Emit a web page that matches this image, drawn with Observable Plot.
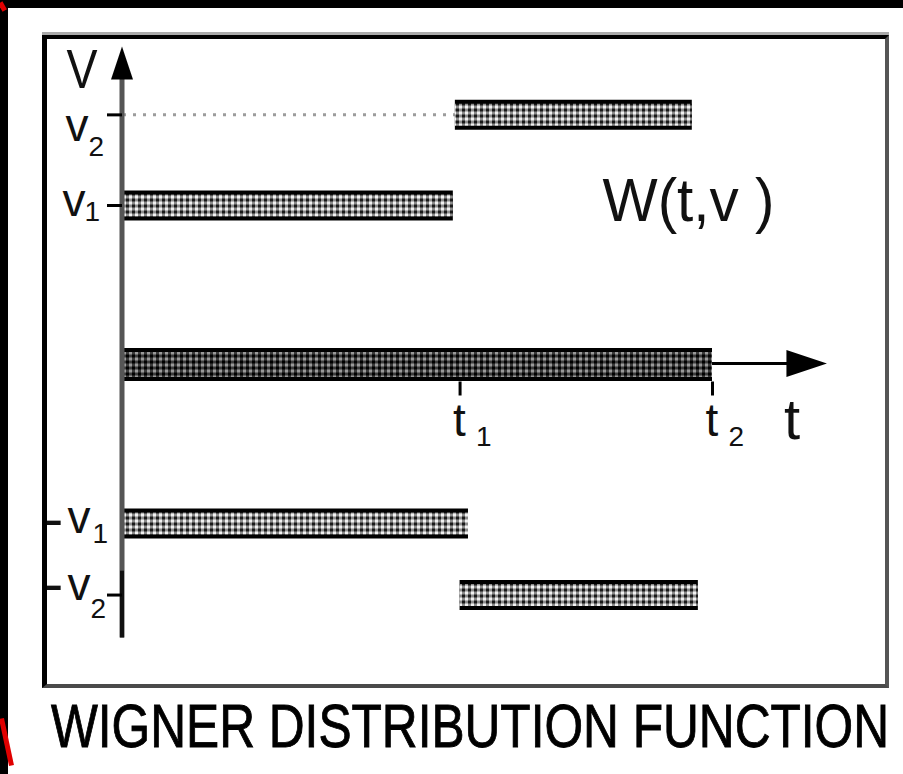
<!DOCTYPE html>
<html>
<head>
<meta charset="utf-8">
<script src="https://cdn.jsdelivr.net/npm/d3@7"></script>
<script src="https://cdn.jsdelivr.net/npm/@observablehq/plot@0.6"></script>
<style>
  html, body { margin: 0; padding: 0; background: #fff; }
  body { position: relative; width: 903px; height: 774px; overflow: hidden; font-family: "Liberation Sans", Arial, sans-serif; }
  #chart { position: absolute; left: 0; top: 0; }
  #box {
    position: absolute; left: 42px; top: 35px; width: 838px; height: 645px;
    border-style: solid; border-width: 4px 4px 4px 5px;
    border-color: #000 #555 #4a4a4a #000;
    box-shadow: 0 -3px 0 #aaa;
    pointer-events: none;
  }
  #title {
    position: absolute; left: 51px; top: 695px;
    font-size: 62px; line-height: 62px; white-space: nowrap;
    transform-origin: 0 0; color: #000;
    -webkit-text-stroke: 0.9px #000;
  }
  .edge { position: absolute; background: #000; }
  .red { position: absolute; background: #e00000; }
</style>
</head>
<body>
<div id="chart"></div>
<div id="box"></div>
<div id="title">WIGNER DISTRIBUTION FUNCTION</div>
<div class="edge" style="left:0;top:0;width:903px;height:8px"></div>
<div class="edge" style="left:0;top:0;width:8px;height:774px"></div>
<div class="red" style="left:0;top:2px;width:5px;height:9px;transform:rotate(-30deg)"></div>
<div class="red" style="left:3.5px;top:717.5px;width:5px;height:48px;transform:rotate(-12deg)"></div>
<script>
// Frequency bands of W(t, v): a tone at v1 that jumps to v2 at t1 and stops at t2,
// mirrored at negative frequencies, plus the cross term along v = 0.
const bandFreq  = [1.57, 1, 0, -1, -1.45];
const bandStart = [0.986, 0, 0, 0, 1.0];
const bandEnd   = [1.69, 0.98, 1.75, 1.025, 1.708];

// time marks t1, t2 on the time axis
const timeMarks = [1, 1.75];
const timeSubs  = ["1", "2"];

// frequency labels on the v axis
const freqLabelVal  = [1.57, 1, -1, -1.45];
const freqLabelSign = ["", "", "-", "-"];
const freqLabelSub  = ["2", "1", "1", "2"];
const tickedFreqs   = [1.57, 1, -1.45];

// axis extents
const axisTop = 2.0, axisBottom = -1.72, axisRight = 2.09;

const FONT = "Liberation Sans, Arial, sans-serif";

const bands = bandFreq.map((v, i) => ({v, t0: bandStart[i], t1: bandEnd[i]}));
const sideBands = bands.filter(d => d.v !== 0);
const baseBand = bands.filter(d => d.v === 0);

// filled arrowheads and short tick strokes as custom symbols
const arrowUp = {draw(ctx, size) { const r = Math.sqrt(size / Math.PI); ctx.moveTo(0, 0); ctx.lineTo(r, 3 * r); ctx.lineTo(-r, 3 * r); ctx.closePath(); }};
const arrowRight = {draw(ctx, size) { const r = Math.sqrt(size / Math.PI); ctx.moveTo(0, 0); ctx.lineTo(-3 * r, r); ctx.lineTo(-3 * r, -r); ctx.closePath(); }};
const tickLeft = {draw(ctx) { ctx.moveTo(-15, 0); ctx.lineTo(0, 0); }};
const tickDown = {draw(ctx) { ctx.moveTo(0, 17); ctx.lineTo(0, 31); }};

const txt = (data, opts) => Plot.text(data, {fontFamily: FONT, fill: "#111", lineAnchor: "bottom", textAnchor: "start", ...opts});

// lettering offsets for each frequency label (letter, subscript, minus)
const freqLetterOffsets = [
  {vx: -58, vy: 26, sx: -35, sy: 41},
  {vx: -61, vy: 10, sx: -39, sy: 15},
  {vx: -56, vy: 9,  sx: -31, sy: 19, mx: -79, my: 14},
  {vx: -56, vy: 5,  sx: -33, sy: 23, mx: -79, my: 8}
];

const freqLabelMarks = freqLabelVal.flatMap((v, i) => {
  const o = freqLetterOffsets[i];
  const m = [
    txt([v], {x: 0, y: d => d, text: () => "v", dx: o.vx, dy: o.vy, fontSize: 46}),
    txt([v], {x: 0, y: d => d, text: () => freqLabelSub[i], dx: o.sx, dy: o.sy, fontSize: 28})
  ];
  if (freqLabelSign[i]) m.push(txt([v], {x: 0, y: d => d, text: () => freqLabelSign[i], dx: o.mx, dy: o.my, fontSize: 56}));
  return m;
});

const plot = Plot.plot({
  width: 903,
  height: 696,
  marginLeft: 123,
  marginRight: 191,
  marginTop: 205,
  marginBottom: 173,
  x: {domain: [0, 1.75], axis: null},
  y: {domain: [-1, 1], axis: null},
  style: {background: "transparent", overflow: "visible"},
  marks: [
    // dotted guide from the v axis to the v2 band
    Plot.ruleY([bandFreq[0]], {x1: 0, x2: bandStart[0], stroke: "#9c9c9c", strokeWidth: 3, strokeDasharray: "3,7"}),
    // hatched bands
    Plot.ruleY(sideBands, {y: "v", x1: "t0", x2: "t1", stroke: "#000", strokeWidth: 30}),
    Plot.ruleY(sideBands, {y: "v", x1: "t0", x2: "t1", stroke: "url(#hatchLight)", strokeWidth: 22}),
    Plot.ruleY(baseBand, {y: "v", x1: "t0", x2: "t1", stroke: "#000", strokeWidth: 33}),
    Plot.ruleY(baseBand, {y: "v", x1: "t0", x2: "t1", stroke: "url(#hatchDark)", strokeWidth: 25}),
    // v axis
    Plot.ruleX([0], {y1: axisBottom, y2: axisTop - 0.1, stroke: "#555", strokeWidth: 5, dx: -1.5}),
    Plot.ruleX([0], {y1: axisBottom, y2: -1.3, stroke: "#111", strokeWidth: 4, dx: -1.5}),
    Plot.dot([axisTop], {x: 0, y: d => d, symbol: arrowUp, r: 11, fill: "#000", stroke: "none", dx: -1.5}),
    // t axis
    Plot.ruleY([0], {x1: timeMarks[1], x2: axisRight - 0.05, stroke: "#000", strokeWidth: 3, dy: -1}),
    Plot.dot([axisRight], {x: d => d, y: 0, symbol: arrowRight, r: 13.5, fill: "#000", stroke: "none", dy: -1}),
    // ticks
    Plot.dot(tickedFreqs, {x: 0, y: d => d, symbol: tickLeft, stroke: "#000", strokeWidth: 3, fill: "none", dx: -1.5}),
    Plot.dot(timeMarks, {x: d => d, y: 0, symbol: tickDown, stroke: "#000", strokeWidth: 3, fill: "none"}),
    // axis names
    txt([axisTop], {x: 0, y: d => d, text: () => "V", dx: -57, dy: 41, fontSize: 56}),
    txt([axisRight], {x: d => d, y: 0, text: () => "t", dx: -43, dy: 74, fontSize: 58}),
    // t1, t2
    txt(timeMarks, {x: d => d, y: 0, text: () => "t", dx: -7, dy: 71, fontSize: 46}),
    txt(timeMarks, {x: d => d, y: 0, text: (d, i) => timeSubs[i], dx: 16, dy: 81, fontSize: 28}),
    ...freqLabelMarks,
    // distribution name
    txt(["W(t,v )"], {frameAnchor: "top-right", text: d => d, dx: -110, dy: 15, fontSize: 62})
  ]
});

// hatch patterns for the bands
d3.select(plot).insert("defs", ":first-child").html(`
  <pattern id="hatchLight" width="6" height="6" patternUnits="userSpaceOnUse">
    <rect width="6" height="6" fill="#8c8c8c"/>
    <rect width="3" height="3" fill="#1a1a1a"/>
    <rect x="3" y="3" width="3" height="3" fill="#f2f2f2"/>
  </pattern>
  <pattern id="hatchDark" width="6" height="6" patternUnits="userSpaceOnUse">
    <rect width="6" height="6" fill="#3a3a3a"/>
    <rect width="3" height="3" fill="#000"/>
    <rect x="3" y="3" width="3" height="3" fill="#9a9a9a"/>
  </pattern>`);

// narrow lettering
const stretch = {"W(t,v )": 172, "V": 31};
d3.select(plot).selectAll("text").each(function() {
  const fit = stretch[this.textContent];
  if (fit) { this.setAttribute("textLength", fit); this.setAttribute("lengthAdjust", "spacingAndGlyphs"); }
});

document.getElementById("chart").appendChild(plot);

function fitTitle() {
  const t = document.getElementById("title");
  t.style.transform = "none";
  const w = t.getBoundingClientRect().width;
  if (w > 0) t.style.transform = `scaleX(${838 / w})`;
}
fitTitle();
if (document.fonts) document.fonts.ready.then(fitTitle);
</script>
</body>
</html>
